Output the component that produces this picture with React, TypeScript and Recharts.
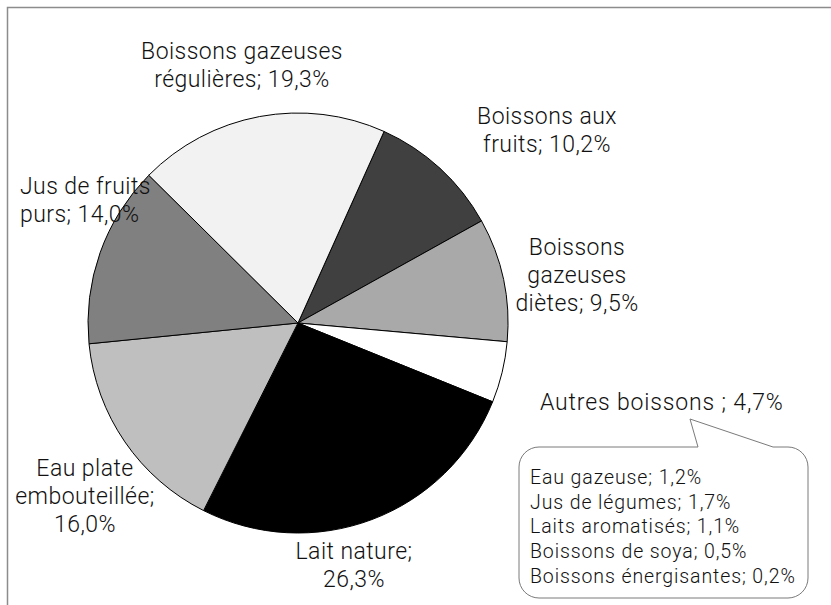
import { PieChart, Pie, Cell } from 'recharts';

// Répartition des boissons consommées (%)
const categories = [
  'Boissons aux fruits',
  'Boissons gazeuses diètes',
  'Autres boissons',
  'Lait nature',
  'Eau plate embouteillée',
  'Jus de fruits purs',
  'Boissons gazeuses régulières',
];
const shares = [10.2, 9.5, 4.7, 26.3, 16.0, 14.0, 19.3];
const sliceColors = ['#404040', '#a9a9a9', '#ffffff', '#000000', '#bfbfbf', '#808080', '#f2f2f2'];

// détail de "Autres boissons"
const autresCategories = ['Eau gazeuse', 'Jus de légumes', 'Laits aromatisés', 'Boissons de soya', 'Boissons énergisantes'];
const autresShares = [1.2, 1.7, 1.1, 0.5, 0.2];

const FONT = "Roboto, 'Liberation Sans', sans-serif";
const INK = '#111';
const START = 65.8;

// where each slice label sits, and how its words wrap
const labelLayout: { x: number; y: number; anchor: 'start' | 'middle'; breaks: number[]; sep?: string; spacing?: number }[] = [
  { x: 547, y: 124, anchor: 'middle', breaks: [2, 2] },
  { x: 577, y: 255, anchor: 'middle', breaks: [1, 1, 2] },
  { x: 540, y: 410, anchor: 'start', breaks: [4], sep: ' ; ', spacing: 0.85 },
  { x: 354, y: 559, anchor: 'middle', breaks: [2, 1] },
  { x: 85, y: 476, anchor: 'middle', breaks: [2, 1, 1] },
  { x: 20, y: 194, anchor: 'start', breaks: [3, 2] },
  { x: 242, y: 59, anchor: 'middle', breaks: [2, 2] },
];

const fmt = (v: number) => `${v.toFixed(1).replace('.', ',')}%`;

const data = categories.map((name, i) => ({ name, value: shares[i] }));

function SliceLabel(props: any) {
  const i = props.index;
  const lay = labelLayout[i];
  const text = `${categories[i]}${lay.sep ?? '; '}${fmt(shares[i])}`;
  const words = text.split(' ');
  const lines: string[] = [];
  let k = 0;
  lay.breaks.forEach((n) => {
    lines.push(words.slice(k, k + n).join(' '));
    k += n;
  });
  return (
    <text x={lay.x} y={lay.y} textAnchor={lay.anchor} fill={INK} fontSize={23} letterSpacing={lay.spacing ?? 0.45} fontFamily={FONT} fontWeight={300}>
      {lines.map((l, j) => (
        <tspan key={j} x={lay.x} dy={j === 0 ? 0 : 28}>{l}</tspan>
      ))}
    </text>
  );
}

export default function App() {
  return (
    <div style={{ position: 'absolute', left: 0, top: 0, width: 831, height: 605, background: '#fff' }}>
      <PieChart width={831} height={605} margin={{ top: 0, right: 0, bottom: 0, left: 0 }}>
        <Pie
          data={data}
          dataKey="value"
          nameKey="name"
          cx={298}
          cy={323}
          outerRadius={210}
          startAngle={START}
          endAngle={START - 360}
          stroke="#000"
          strokeWidth={1}
          label={SliceLabel}
          labelLine={false}
          isAnimationActive={false}
        >
          {data.map((d, i) => (
            <Cell key={d.name} fill={sliceColors[i]} />
          ))}
        </Pie>
      </PieChart>
      <svg width={831} height={605} style={{ position: 'absolute', left: 0, top: 0, pointerEvents: 'none' }}>
        <path d="M7.5 605 L7.5 7.5 L831 7.5" fill="none" stroke="#8c8c8c" strokeWidth={1.5} />
        <path
          d="M539 447 L698 447 L690 419 L773 447 L788 447 A20 20 0 0 1 808 467 L808 578 A20 20 0 0 1 788 598 L539 598 A20 20 0 0 1 519 578 L519 467 A20 20 0 0 1 539 447 Z"
          fill="#fff"
          stroke="#7a7a7a"
          strokeWidth={1}
        />
        <text x={530} y={484} fill={INK} fontSize={19.5} letterSpacing={0.9} fontFamily={FONT} fontWeight={300}>
          {autresCategories.map((c, i) => (
            <tspan key={c} x={530} dy={i === 0 ? 0 : 24.7}>{`${c}; ${fmt(autresShares[i])}`}</tspan>
          ))}
        </text>
      </svg>
    </div>
  );
}
